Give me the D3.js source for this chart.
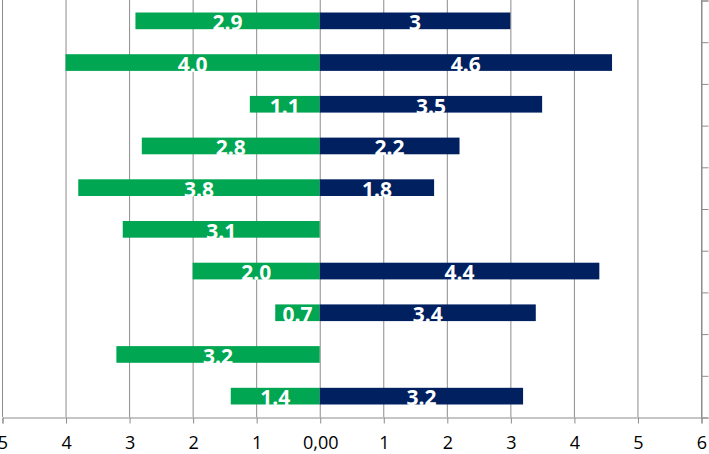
<!DOCTYPE html>
<html>
<head>
<meta charset="utf-8">
<script src="https://cdn.jsdelivr.net/npm/d3@7"></script>
<style>
  body { margin: 0; background: #fff; }
  svg { display: block; }
</style>
</head>
<body>
<script>
// rows top to bottom
const rows = [0, 1, 2, 3, 4, 5, 6, 7, 8, 9]
const leftValues = [2.9, 4.0, 1.1, 2.8, 3.8, 3.1, 2.0, 0.7, 3.2, 1.4]   // green, drawn to the left
const rightValues = [3, 4.6, 3.5, 2.2, 1.8, null, 4.4, 3.4, null, 3.2] // navy, drawn to the right
const xTicks = [-5, -4, -3, -2, -1, 0, 1, 2, 3, 4, 5, 6]

const W = 709, H = 454
const svg = d3.select("body").append("svg").attr("width", W).attr("height", H)

const x = d3.scaleLinear().domain([-5, 6]).range([2, 701])
const y = d3.scaleBand().domain(rows).range([0, 417]).paddingInner(0.6).paddingOuter(0.3)
const yEdge = d3.scaleLinear().domain([0, rows.length]).range([0, 417])

// vertical gridlines
svg.append("g").selectAll("line").data(xTicks).enter().append("line")
  .attr("x1", d => x(d) + 0.5).attr("x2", d => x(d) + 0.5)
  .attr("y1", 0).attr("y2", 417)
  .attr("stroke", "#8c8c8c").attr("stroke-width", 1)

// bars
svg.append("g").selectAll("rect").data(rows).enter().append("rect")
  .attr("x", i => x(-leftValues[i]))
  .attr("width", i => x(0) - x(-leftValues[i]))
  .attr("y", i => y(i)).attr("height", y.bandwidth())
  .attr("fill", "#00a651")

const rightRows = rows.filter(i => rightValues[i] != null)
svg.append("g").selectAll("rect").data(rightRows).enter().append("rect")
  .attr("x", x(0))
  .attr("width", i => x(rightValues[i]) - x(0))
  .attr("y", i => y(i)).attr("height", y.bandwidth())
  .attr("fill", "#002060")

// value labels
const labelFont = "'Open Sans', sans-serif"
svg.append("g").selectAll("text").data(rows).enter().append("text")
  .attr("x", i => (x(-leftValues[i]) + x(0)) / 2)
  .attr("y", i => y(i) + y.bandwidth() + 1)
  .attr("text-anchor", "middle")
  .attr("font-family", labelFont).attr("font-weight", "bold").attr("font-size", 21)
  .attr("fill", "#fff")
  .text(i => d3.format(".1f")(leftValues[i]))

svg.append("g").selectAll("text").data(rightRows).enter().append("text")
  .attr("x", i => (x(rightValues[i]) + x(0)) / 2)
  .attr("y", i => y(i) + y.bandwidth() + 1)
  .attr("text-anchor", "middle")
  .attr("font-family", labelFont).attr("font-weight", "bold").attr("font-size", 21)
  .attr("fill", "#fff")
  .text(i => String(rightValues[i]))

// bottom axis
const xAxis = d3.axisBottom(x).tickValues(xTicks).tickSize(6).tickPadding(13)
  .tickFormat(d => d === 0 ? "0,00" : String(Math.abs(d)))
const gx = svg.append("g").attr("transform", "translate(0.5,417.5)").call(xAxis)
gx.select(".domain").attr("stroke", "#8c8c8c")
gx.selectAll(".tick line").attr("stroke", "#8c8c8c")
gx.selectAll("text").attr("font-family", labelFont).attr("font-size", 18).attr("fill", "#000")

// right axis, ticks between rows
const yAxis = d3.axisRight(yEdge).ticks(rows.length).tickSize(7).tickFormat("")
const gy = svg.append("g").attr("transform", "translate(701.5,0.5)").call(yAxis)
gy.select(".domain").attr("stroke", "#8c8c8c")
gy.selectAll(".tick line").attr("stroke", "#8c8c8c")
</script>
</body>
</html>
